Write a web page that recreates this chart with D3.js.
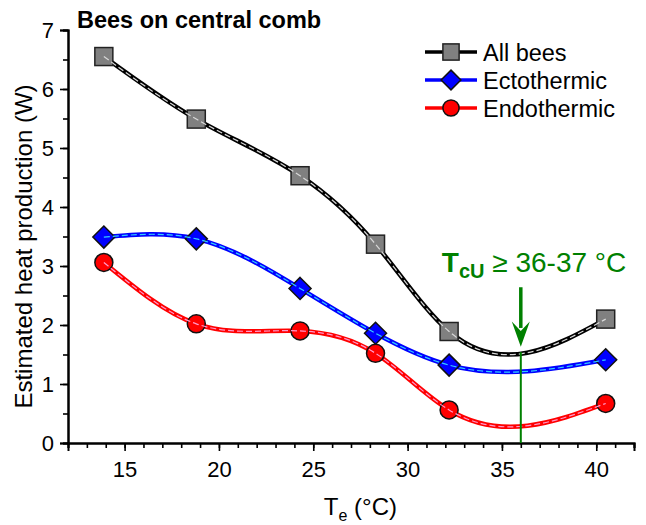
<!DOCTYPE html>
<html>
<head>
<meta charset="utf-8">
<script src="https://cdn.jsdelivr.net/npm/d3@7"></script>
<style>
  body { margin: 0; background: #fff; }
  text { font-family: "Liberation Sans", Arial, sans-serif; }
</style>
</head>
<body>
<div id="chart"></div>
<script>
// Data
var temps = [13.9, 18.8, 24.3, 28.3, 32.2, 40.5];
var allBees = [6.55, 5.49, 4.53, 3.37, 1.89, 2.10];
var ecto = [3.49, 3.46, 2.62, 1.86, 1.32, 1.41];
var endo = [3.06, 2.02, 1.90, 1.52, 0.56, 0.67];
var seriesNames = ["All bees", "Ectothermic", "Endothermic"];
var xTicks = [15, 20, 25, 30, 35, 40];
var yTicks = [0, 1, 2, 3, 4, 5, 6, 7];
var tcu = 36;

var svgWidth = 646;
var svgHeight = 525;
var margin = { top: 30, right: 12, bottom: 82, left: 68 };
var width = svgWidth - margin.left - margin.right;
var height = svgHeight - margin.top - margin.bottom;

var svg = d3.select("#chart").append("svg")
    .attr("width", svgWidth)
    .attr("height", svgHeight);

var g = svg.append("g")
    .attr("transform", `translate(${margin.left}, ${margin.top})`);

var x = d3.scaleLinear().domain([12, 42]).range([0, width]);
var y = d3.scaleLinear().domain([0, 7]).range([height, 0]);

// axes with minor ticks
var xMinor = d3.axisBottom(x).tickValues(d3.range(12, 43, 1)).tickSize(5).tickFormat("");
var xMajor = d3.axisBottom(x).tickValues(xTicks).tickSize(8).tickPadding(10);
var yMinor = d3.axisLeft(y).tickValues(d3.range(0, 7.01, 0.5)).tickSize(5).tickFormat("");
var yMajor = d3.axisLeft(y).tickValues(yTicks).tickSize(8).tickPadding(6).tickFormat(d3.format("d"));

function styleAxis(sel) {
  sel.select(".domain").attr("stroke", "#000").attr("stroke-width", 2);
  sel.selectAll(".tick line").attr("stroke", "#000").attr("stroke-width", 1.6);
  sel.selectAll(".tick text").attr("font-size", 22).attr("fill", "#000")
      .style("font-family", "Liberation Sans, Arial, sans-serif");
}

g.append("g").attr("transform", `translate(0, ${height})`).call(xMinor).call(styleAxis);
g.append("g").attr("transform", `translate(0, ${height})`).call(xMajor).call(styleAxis);
g.append("g").call(yMinor).call(styleAxis);
g.append("g").call(yMajor).call(styleAxis);

// axis titles
var xt = g.append("text")
    .attr("x", x(27.5))
    .attr("y", height + 72)
    .attr("text-anchor", "middle")
    .attr("font-size", 24);
xt.append("tspan").text("T");
xt.append("tspan").attr("font-size", 16).attr("dy", 6).text("e");
xt.append("tspan").attr("dy", -6).text(" (°C)");

g.append("text")
    .attr("transform", "rotate(-90)")
    .attr("x", -y(3.33))
    .attr("y", -36)
    .attr("text-anchor", "middle")
    .attr("font-size", 24)
    .text("Estimated heat production (W)");

// title
g.append("text")
    .attr("x", 9)
    .attr("y", -2)
    .attr("font-size", 23.5)
    .attr("font-weight", "bold")
    .text("Bees on central comb");

// natural cubic spline of y as a function of x (like the original plotting program)
function splineX(context) {
  var xs, ys;
  return {
    areaStart: function() {},
    areaEnd: function() {},
    lineStart: function() { xs = []; ys = []; },
    point: function(px, py) { xs.push(+px); ys.push(+py); },
    lineEnd: function() {
      var n = xs.length;
      if (!n) return;
      var h = [], M = new Array(n).fill(0);
      for (var i = 0; i < n - 1; i++) h.push(xs[i + 1] - xs[i]);
      if (n > 2) {
        var a = [], b = [], c = [], d = [];
        for (var i = 1; i < n - 1; i++) {
          a.push(h[i - 1]);
          b.push(2 * (h[i - 1] + h[i]));
          c.push(h[i]);
          d.push(6 * ((ys[i + 1] - ys[i]) / h[i] - (ys[i] - ys[i - 1]) / h[i - 1]));
        }
        var m = b.length;
        for (var i = 1; i < m; i++) {
          var w = a[i] / b[i - 1];
          b[i] -= w * c[i - 1];
          d[i] -= w * d[i - 1];
        }
        var sol = new Array(m);
        sol[m - 1] = d[m - 1] / b[m - 1];
        for (var i = m - 2; i >= 0; i--) sol[i] = (d[i] - c[i] * sol[i + 1]) / b[i];
        for (var i = 0; i < m; i++) M[i + 1] = sol[i];
      }
      context.moveTo(xs[0], ys[0]);
      for (var i = 0; i < n - 1; i++) {
        var hi = h[i], s = (ys[i + 1] - ys[i]) / hi;
        var m0 = s - hi * (2 * M[i] + M[i + 1]) / 6;
        var m1 = s + hi * (M[i] + 2 * M[i + 1]) / 6;
        context.bezierCurveTo(
          xs[i] + hi / 3, ys[i] + m0 * hi / 3,
          xs[i + 1] - hi / 3, ys[i + 1] - m1 * hi / 3,
          xs[i + 1], ys[i + 1]);
      }
    }
  };
}

// series
var series = [
  { name: seriesNames[0], values: allBees, color: "#000", inner: "#d8d8d8", fill: "#808080", shape: "square" },
  { name: seriesNames[1], values: ecto, color: "#0000ff", inner: "#33ccff", fill: "#0000ff", shape: "diamond" },
  { name: seriesNames[2], values: endo, color: "#ff0000", inner: "#ff99cc", fill: "#ff0000", shape: "circle" }
];

var line = d3.line()
    .x(d => x(d[0]))
    .y(d => y(d[1]))
    .curve(splineX);

function drawMarker(sel, shape, fill, k) {
  k = k || 1;
  if (shape === "square") {
    sel.append("rect").attr("x", -9 * k).attr("y", -9 * k).attr("width", 18 * k).attr("height", 18 * k)
        .attr("fill", fill).attr("stroke", "#222").attr("stroke-width", 1.5);
  } else if (shape === "diamond") {
    sel.append("path").attr("d", `M0,${-11 * k}L${11 * k},0L0,${11 * k}L${-11 * k},0Z`)
        .attr("fill", fill).attr("stroke", "#111").attr("stroke-width", 1.5);
  } else {
    sel.append("circle").attr("r", 9 * k)
        .attr("fill", fill).attr("stroke", "#111").attr("stroke-width", 1.5);
  }
}

series.forEach(function(s) {
  var pts = temps.map((t, i) => [t, s.values[i]]);
  g.append("path").datum(pts)
      .attr("d", line)
      .attr("fill", "none")
      .attr("stroke", s.color)
      .attr("stroke-width", 4.5);
  pts.forEach(function(p) {
    var m = g.append("g").attr("transform", `translate(${x(p[0])}, ${y(p[1])})`);
    drawMarker(m, s.shape, s.fill);
  });
  g.append("path").datum(pts)
      .attr("d", line)
      .attr("fill", "none")
      .attr("stroke", s.inner)
      .attr("stroke-width", 1.2)
      .attr("stroke-dasharray", "6,3");
});

// green TcU marker
var green = "#008000";
g.append("line")
    .attr("x1", x(tcu)).attr("x2", x(tcu))
    .attr("y1", y(1.54)).attr("y2", y(0))
    .attr("stroke", green).attr("stroke-width", 2);
g.append("line")
    .attr("x1", x(tcu)).attr("x2", x(tcu))
    .attr("y1", y(2.64)).attr("y2", y(1.95))
    .attr("stroke", green).attr("stroke-width", 3.5);
g.append("path")
    .attr("d", `M${x(tcu) - 9},${y(2.06)}L${x(tcu)},${y(1.63)}L${x(tcu) + 9},${y(2.06)}L${x(tcu)},${y(1.9)}Z`)
    .attr("fill", green);

var ann = g.append("text")
    .attr("x", x(tcu) - 79)
    .attr("y", y(2.90))
    .attr("font-size", 28)
    .attr("fill", green);
ann.append("tspan").attr("font-weight", "bold").text("T");
ann.append("tspan").attr("font-weight", "bold").attr("font-size", 20).attr("dy", 6).text("cU");
ann.append("tspan").attr("dy", -6).text(" ≥ 36-37 °C");

// legend
var legend = g.append("g").attr("transform", `translate(${425 - margin.left}, ${52 - margin.top})`);
series.forEach(function(s, i) {
  var row = legend.append("g").attr("transform", `translate(0, ${i * 28})`);
  row.append("line").attr("x1", 0).attr("x2", 52).attr("y1", 0).attr("y2", 0)
      .attr("stroke", s.color).attr("stroke-width", 3.5);
  var m = row.append("g").attr("transform", "translate(26, 0)");
  drawMarker(m, s.shape, s.fill, 0.9);
  row.append("text").attr("x", 58).attr("y", 8.5)
      .attr("font-size", 23.5)
      .text(s.name);
});
</script>
</body>
</html>
